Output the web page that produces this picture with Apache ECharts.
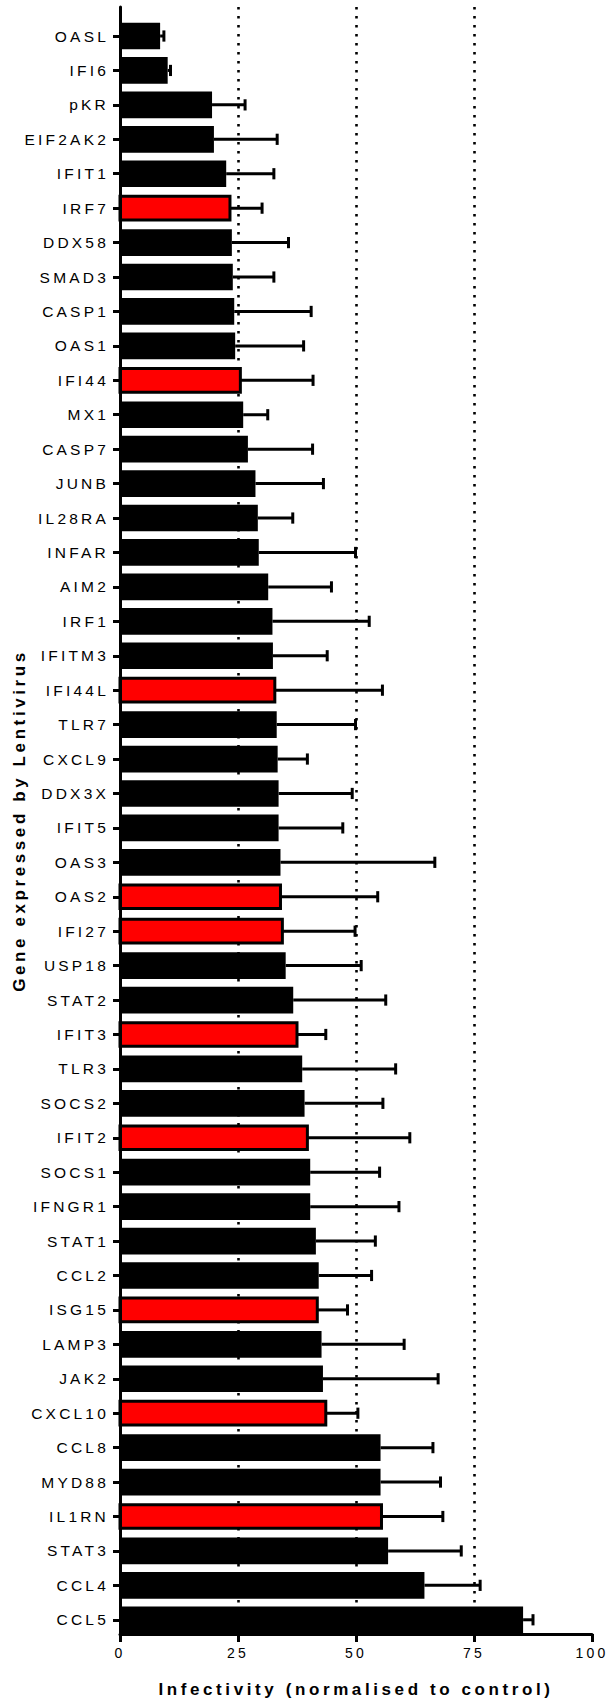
<!DOCTYPE html>
<html>
<head>
<meta charset="utf-8">
<script src="https://cdn.jsdelivr.net/npm/echarts@6/dist/echarts.min.js"></script>
<style>
  html, body { margin: 0; padding: 0; background: #fff; }
  #chart { width: 608px; height: 1703px; }
  /* Prism-style wide tracking on every label */
  #chart text { letter-spacing: 3.2px; }
  #chart text[style*="bold"] { letter-spacing: 3.6px; }
</style>
</head>
<body>
<div id="chart"></div>
<script>
// Genes expressed by lentivirus, ordered by mean infectivity
const genes = [
  'OASL', 'IFI6', 'pKR', 'EIF2AK2', 'IFIT1', 'IRF7', 'DDX58', 'SMAD3', 'CASP1', 'OAS1',
  'IFI44', 'MX1', 'CASP7', 'JUNB', 'IL28RA', 'INFAR', 'AIM2', 'IRF1', 'IFITM3', 'IFI44L',
  'TLR7', 'CXCL9', 'DDX3X', 'IFIT5', 'OAS3', 'OAS2', 'IFI27', 'USP18', 'STAT2', 'IFIT3',
  'TLR3', 'SOCS2', 'IFIT2', 'SOCS1', 'IFNGR1', 'STAT1', 'CCL2', 'ISG15', 'LAMP3', 'JAK2',
  'CXCL10', 'CCL8', 'MYD88', 'IL1RN', 'STAT3', 'CCL4', 'CCL5'
];

// Mean infectivity (% of control)
const meanInfectivity = [
  8.5, 10.1, 19.5, 19.9, 22.5, 23.3, 23.7, 23.9, 24.2, 24.4,
  25.5, 26.1, 27.1, 28.7, 29.2, 29.4, 31.4, 32.3, 32.4, 32.8,
  33.2, 33.4, 33.6, 33.6, 34.0, 34.0, 34.4, 35.1, 36.7, 37.5,
  38.6, 39.1, 39.7, 40.3, 40.3, 41.5, 42.1, 41.8, 42.7, 43.0,
  43.6, 55.2, 55.2, 55.4, 56.8, 64.5, 85.4
];

// Standard deviation (upper error bar only)
const sdInfectivity = [
  0.8, 0.6, 7.0, 13.4, 10.1, 6.8, 12.0, 8.7, 16.3, 14.5,
  15.4, 5.2, 13.7, 14.4, 7.4, 20.5, 13.4, 20.5, 11.5, 22.8,
  16.7, 6.3, 15.6, 13.6, 32.7, 20.6, 15.4, 16.0, 19.6, 6.1,
  19.8, 16.6, 21.7, 14.7, 18.8, 12.6, 11.2, 6.4, 17.5, 24.4,
  6.8, 11.1, 12.7, 13.0, 15.5, 11.8, 2.1
];

// Genes drawn in red
const highlighted = ['IRF7', 'IFI44', 'IFI44L', 'OAS2', 'IFI27', 'IFIT3', 'IFIT2', 'ISG15', 'CXCL10', 'IL1RN'];

const xMin = 0, xMax = 100, xStep = 25;
const xTitle = 'Infectivity (normalised to control)';
const yTitle = 'Gene expressed by Lentivirus';

const FONT = '"Liberation Sans", Arial, Helvetica, sans-serif';

const seriesData = genes.map((g, i) => [
  meanInfectivity[i], i, sdInfectivity[i], highlighted.indexOf(g) >= 0 ? 1 : 0
]);

function renderBar(params, api) {
  const v = api.value(0);
  const i = api.value(1);
  const sd = api.value(2);
  const red = api.value(3);
  const band = api.size([0, 1])[1];
  const h = band * 0.775;
  const base = api.coord([0, i]);
  const end = api.coord([v, i]);
  const tip = api.coord([v + sd, i]);
  const y = base[1];
  const capHalf = h * 0.21;
  const children = [
    { type: 'line', shape: { x1: end[0], y1: y, x2: tip[0], y2: y },
      style: { stroke: '#000', lineWidth: 3 } },
    { type: 'line', shape: { x1: tip[0], y1: y - capHalf, x2: tip[0], y2: y + capHalf },
      style: { stroke: '#000', lineWidth: 3 } }
  ];
  if (red) {
    children.push({ type: 'rect',
      shape: { x: base[0], y: y - h / 2 + 1.5, width: end[0] - base[0], height: h - 3 },
      style: { fill: '#ff0000', stroke: '#000', lineWidth: 3 } });
  } else {
    children.push({ type: 'rect',
      shape: { x: base[0], y: y - h / 2, width: end[0] - base[0], height: h },
      style: { fill: '#000' } });
  }
  return { type: 'group', children };
}

const chart = echarts.init(document.getElementById('chart'), null, { renderer: 'svg' });

chart.setOption({
  animation: false,
  backgroundColor: '#fff',
  textStyle: { fontFamily: FONT, color: '#000' },
  grid: [
    // frame: axes, dotted guides, titles
    { left: 120, right: 16, top: 7, bottom: 66 },
    // bars and category labels
    { left: 120, right: 16, top: 18.8, bottom: 66 }
  ],
  xAxis: [
    {
      gridIndex: 0, type: 'value', min: xMin, max: xMax, interval: xStep,
      axisLine: { show: true, lineStyle: { color: '#000', width: 3 } },
      axisTick: { show: true, length: 8, lineStyle: { color: '#000', width: 3 } },
      axisLabel: { margin: 12, fontSize: 14, color: '#000', fontFamily: FONT },
      splitLine: {
        show: true, showMinLine: false, showMaxLine: false,
        lineStyle: { color: '#000', width: 2.6, type: [2.6, 6.4] }
      },
      name: xTitle, nameLocation: 'middle', nameGap: 47,
      nameTextStyle: { fontSize: 17, fontWeight: 'bold', color: '#000', fontFamily: FONT }
    },
    {
      gridIndex: 1, type: 'value', min: xMin, max: xMax, show: false
    }
  ],
  yAxis: [
    {
      gridIndex: 0, type: 'value', min: 0, max: 1, z: 10,
      axisLine: { show: true, lineStyle: { color: '#000', width: 3 } },
      axisTick: { show: false }, axisLabel: { show: false }, splitLine: { show: false },
      name: yTitle, nameLocation: 'middle', nameRotate: 90, nameGap: 92,
      nameTextStyle: { fontSize: 17, fontWeight: 'bold', color: '#000', fontFamily: FONT }
    },
    {
      gridIndex: 1, type: 'category', data: genes, inverse: true,
      axisLine: { show: false },
      axisTick: { show: true, alignWithLabel: true, length: 7, lineStyle: { color: '#000', width: 3 } },
      axisLabel: { margin: 11, fontSize: 15.5, color: '#000', fontFamily: FONT, interval: 0 },
      splitLine: { show: false }
    }
  ],
  series: [
    {
      type: 'custom', xAxisIndex: 1, yAxisIndex: 1,
      encode: { x: 0, y: 1 },
      renderItem: renderBar,
      data: seriesData,
      z: 3
    }
  ]
});
</script>
</body>
</html>
